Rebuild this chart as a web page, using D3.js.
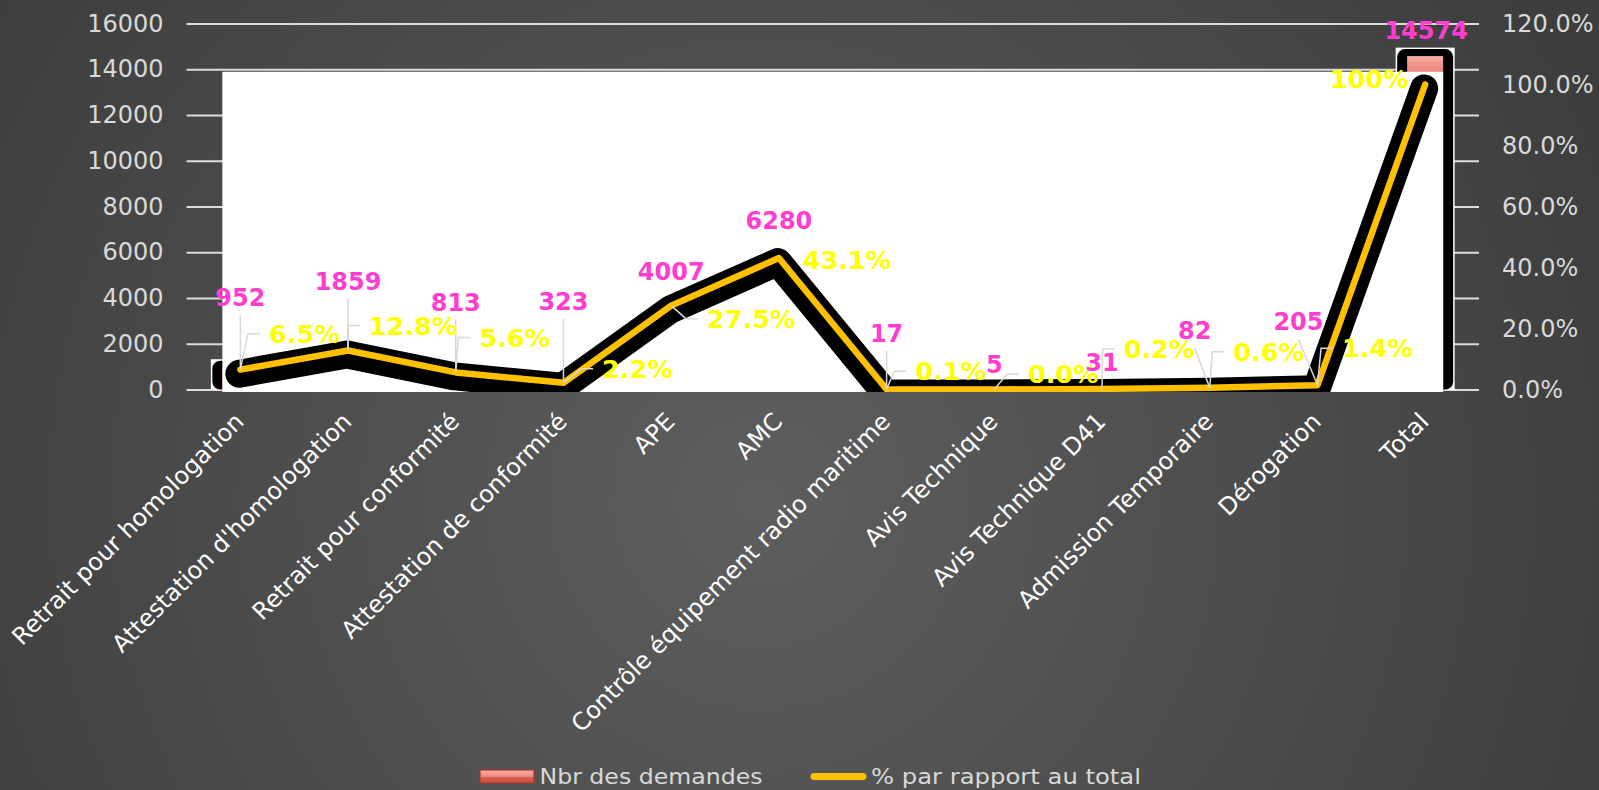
<!DOCTYPE html>
<html><head><meta charset="utf-8">
<script src="https://cdn.jsdelivr.net/npm/d3@7"></script>
<style>html,body{margin:0;padding:0;background:#4a4a4a;overflow:hidden}</style>
</head><body>
<svg id="c" width="1599" height="790"></svg>
<script>
// ---------- data ----------
const categories = ["Retrait pour homologation","Attestation d'homologation","Retrait pour conformité","Attestation de conformité","APE","AMC","Contrôle équipement radio maritime","Avis Technique","Avis Technique D41","Admission Temporaire","Dérogation","Total"];
const demandes = [952,1859,813,323,4007,6280,17,5,31,82,205,14574];
const pourcentages = [6.5,12.8,5.6,2.2,27.5,43.1,0.1,0.0,0.2,0.6,1.4,100];
const leftTicks = [0,2000,4000,6000,8000,10000,12000,14000,16000];
const rightTicks = [0,20,40,60,80,100,120];
const seriesNames = ["Nbr des demandes","% par rapport au total"];

// ---------- layout (label placement, px offsets from the mark) ----------
const valueLabelOffsets = [[0,-70],[0,-66],[0,-69],[0,-81],[0,-26],[0,-25],[0,-56],[0,-25],[0,-26],[-15,-57],[-19,-63],[1,-26]];
const valueLeaders = [1,1,1,1,0,0,1,0,0,1,1,0];
const pctLabelOffsets = [[64,-36],[65,-25],[59,-35],[74,-14],[80,13],[68,1.5],[64,-18],[69,-15.5],[57,-40],[59,-36],[60,-37],[-56,-5.5]];
const pctLeaders = [1,1,1,1,1,0,1,1,1,1,1,0];

const W = 1599, H = 790;
const plot = {left:186.5, right:1479, top:23.5, bottom:389.5};
const FONT = "DejaVu Sans";

const svg = d3.select("#c");
const defs = svg.append("defs");

// background
const bg = defs.append("radialGradient").attr("id","bg").attr("gradientUnits","userSpaceOnUse")
  .attr("cx",760).attr("cy",500).attr("r",920);
bg.append("stop").attr("offset","0%").attr("stop-color","#5e5e5e");
bg.append("stop").attr("offset","100%").attr("stop-color","#3d3d3d");
svg.append("rect").attr("width",W).attr("height",H).attr("fill","url(#bg)");

const barGrad = defs.append("linearGradient").attr("id","barg").attr("x1",0).attr("y1",0).attr("x2",0).attr("y2",1);
barGrad.append("stop").attr("offset","0%").attr("stop-color","#f8b4ab");
barGrad.append("stop").attr("offset","2%").attr("stop-color","#f29a8f");
barGrad.append("stop").attr("offset","5%").attr("stop-color","#ec8376");
barGrad.append("stop").attr("offset","100%").attr("stop-color","#d9584a");

// scales
const x = d3.scaleBand().domain(categories).range([plot.left, plot.right]).padding(0);
const cx = c => x(c) + x.bandwidth()/2;
const yL = d3.scaleLinear().domain([0,16000]).range([plot.bottom, plot.top]);
const yR = d3.scaleLinear().domain([0,120]).range([plot.bottom, plot.top]);

// gridlines
const grid = svg.append("g").attr("transform",`translate(${plot.left},0)`)
  .call(d3.axisLeft(yL).tickValues(leftTicks).tickSize(-(plot.right-plot.left)).tickFormat(""));
grid.select(".domain").remove();
grid.selectAll("line").attr("stroke","#dcdcdc").attr("stroke-width",1.8);

// left axis labels
const ax = svg.append("g").attr("transform",`translate(${plot.left},0)`)
  .call(d3.axisLeft(yL).tickValues(leftTicks).tickSize(0).tickPadding(23).tickFormat(d3.format("d")));
ax.select(".domain").remove();
ax.selectAll("text").attr("fill","#d9d9d9").attr("font-family",FONT).attr("font-size",24);

// right axis labels
const ar = svg.append("g").attr("transform",`translate(${plot.right},0)`)
  .call(d3.axisRight(yR).tickValues(rightTicks).tickSize(0).tickPadding(23).tickFormat(d => d.toFixed(1)+"%"));
ar.select(".domain").remove();
ar.selectAll("text").attr("fill","#d9d9d9").attr("font-family",FONT).attr("font-size",24);

// category axis
const axb = svg.append("g").attr("transform",`translate(0,${plot.bottom})`)
  .call(d3.axisBottom(x).tickSize(0));
axb.select(".domain").remove();
axb.selectAll("text").attr("fill","#ffffff").attr("font-family",FONT).attr("font-size",24)
  .attr("x",0).attr("y",0).attr("dy",0).attr("text-anchor","end")
  .attr("transform","translate(5,33.5) rotate(-45)");

// bars
const bw = 36;
const bars = svg.append("g");
const bdata = categories.map((c,i)=>({c, v:demandes[i], p:pourcentages[i], i}));
bars.selectAll(".glow").data(bdata).join("rect")
  .attr("x",d=>cx(d.c)-bw/2-11.5).attr("y",d=>yL(d.v)-8.5)
  .attr("width",bw+23).attr("height",d=>yL(0)-yL(d.v)+8.5).attr("fill","#ffffff");
bars.selectAll(".ring").data(bdata).join("rect")
  .attr("x",d=>cx(d.c)-bw/2-10).attr("y",d=>yL(d.v)-7)
  .attr("width",bw+20).attr("height",d=>yL(0)-yL(d.v)+7).attr("rx",8).attr("fill","#000");
bars.selectAll(".bar").data(bdata).join("rect")
  .attr("x",d=>cx(d.c)-bw/2).attr("y",d=>yL(d.v))
  .attr("width",bw).attr("height",d=>yL(0)-yL(d.v)).attr("fill","url(#barg)");

// white panel
const pLeft = cx(categories[0]) - bw/2, pRight = cx(categories[categories.length-1]) + bw/2;
const pTop = yL(14000) + 2.5, pBottom = yL(0) + 2.5;
svg.append("rect").attr("x",pLeft).attr("y",pTop).attr("width",pRight-pLeft).attr("height",pBottom-pTop).attr("fill","#ffffff");
defs.append("clipPath").attr("id","pc").append("rect")
  .attr("x",pLeft).attr("y",pTop).attr("width",pRight-pLeft).attr("height",pBottom-pTop);

// line
const line = d3.line().x(d=>cx(d.c)).y(d=>yR(d.p));
const lg = svg.append("g").attr("clip-path","url(#pc)");
lg.append("path").datum(bdata).attr("d",line).attr("transform","translate(-1,4)")
  .attr("fill","none").attr("stroke","#000").attr("stroke-width",28)
  .attr("stroke-linejoin","round").attr("stroke-linecap","round");
lg.append("path").datum(bdata).attr("d",line)
  .attr("fill","none").attr("stroke","#ffc000").attr("stroke-width",6.5)
  .attr("stroke-linejoin","round").attr("stroke-linecap","round");

// labels
const leaders = svg.append("g").attr("fill","none").attr("stroke","#d8d8d8").attr("stroke-width",1.5);
const labels = svg.append("g").attr("font-family",FONT).attr("font-weight","bold").attr("text-anchor","middle");

const VFS = 24, PFS = 25.5;
bdata.forEach(d=>{
  const px = cx(d.c), by = yL(d.v);
  const [dx,dy] = valueLabelOffsets[d.i];
  const lx = px+dx, ly = by+dy;
  labels.append("text").attr("x",lx).attr("y",ly).attr("dy","0.36em")
    .attr("font-size",VFS).attr("fill","#ff3dcf").text(d.v);
  if (valueLeaders[d.i]) {
    leaders.append("path").attr("d",`M${lx},${ly+0.365*VFS+9}L${px},${by}`);
  }
  const py = yR(d.p);
  const [qx,qy] = pctLabelOffsets[d.i];
  const tx = px+qx, ty = py+qy;
  const t = labels.append("text").attr("x",tx).attr("y",ty).attr("dy","0.36em")
    .attr("font-size",PFS).attr("fill","#ffff00")
    .text(d.p===100 ? "100%" : d.p.toFixed(1)+"%");
  if (pctLeaders[d.i]) {
    const w = t.node().getComputedTextLength();
    const L = tx - w/2;
    leaders.append("path").attr("d",`M${px},${py}L${L-21},${ty}L${L-9},${ty}`);
  }
});

// legend
const leg = svg.append("g").attr("font-family",FONT).attr("font-size",21).attr("fill","#d9d9d9");
const lgGrad = defs.append("linearGradient").attr("id","legg").attr("x1",0).attr("y1",0).attr("x2",0).attr("y2",1);
lgGrad.append("stop").attr("offset","0%").attr("stop-color","#f9b0a6");
lgGrad.append("stop").attr("offset","50%").attr("stop-color","#ee8a7e");
lgGrad.append("stop").attr("offset","55%").attr("stop-color","#d9604f");
lgGrad.append("stop").attr("offset","100%").attr("stop-color","#c9503f");
leg.append("rect").attr("x",480).attr("y",770).attr("width",54).attr("height",13)
  .attr("fill","url(#legg)").attr("stroke","#a8382c").attr("stroke-width",1.2);
leg.append("text").attr("x",539.5).attr("y",783.5).attr("textLength",223).attr("lengthAdjust","spacingAndGlyphs").text(seriesNames[0]);
leg.append("line").attr("x1",814).attr("x2",863).attr("y1",776.5).attr("y2",776.5)
  .attr("stroke","#ffc000").attr("stroke-width",7).attr("stroke-linecap","round");
leg.append("text").attr("x",871).attr("y",783.5).attr("textLength",270).attr("lengthAdjust","spacingAndGlyphs").text(seriesNames[1]);
</script>
</body></html>
